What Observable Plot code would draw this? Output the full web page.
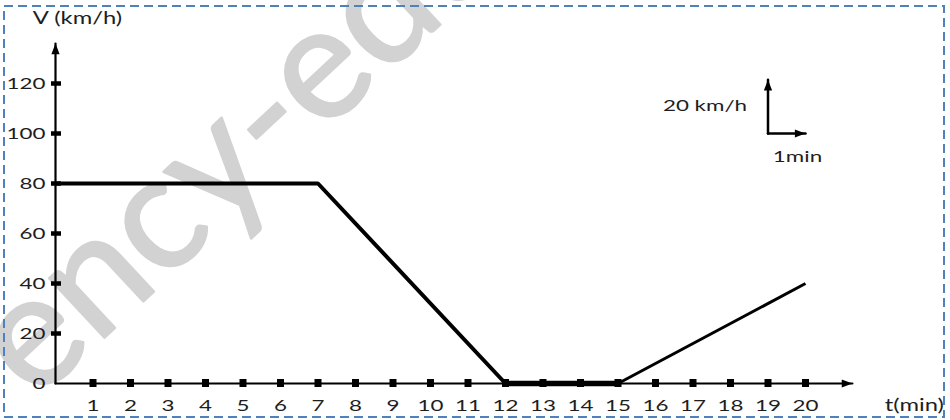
<!DOCTYPE html>
<html>
<head>
<meta charset="utf-8">
<script src="https://cdn.jsdelivr.net/npm/d3@7"></script>
<script src="https://cdn.jsdelivr.net/npm/@observablehq/plot@0.6"></script>
<style>
  html, body { margin: 0; padding: 0; background: #fff; }
  #chart svg { display: block; }
</style>
</head>
<body>
<div id="chart"></div>
<script>
// ---- data ----
const times  = [0, 7, 12, 15, 20];          // t (min)
const speeds = [80, 80, 0, 0, 40];          // V (km/h)
const xTicks = [1, 2, 3, 4, 5, 6, 7, 8, 9, 10, 11, 12, 13, 14, 15, 16, 17, 18, 19, 20];
const yTicks = [20, 40, 60, 80, 100, 120];
const yLabels = [0, 20, 40, 60, 80, 100, 120];
const xTitle = "t(min)";
const yTitle = "V (km/h)";
const legendSpeedLabel = "20 km/h";
const legendTimeLabel = "1min";
const legendOrigin = [19, 100];   // scale legend corner (t, V)
const legendSpeed = [100, 121.5]; // vertical arrow, V
const legendTime = [19, 20];      // horizontal arrow, t
const watermark = "ency-education";

const xMax = 21.25, yMax = 136;    // axis arrow tips
const points = times.map((t, i) => ({t, v: speeds[i]}));

const FONT = "Lato, 'Open Sans', sans-serif";
const TXT = "#1e1e1e";

// filled arrowheads with tip at the anchor point
const headRight = {draw(c, size) { const s = Math.sqrt(size); c.moveTo(0, 0); c.lineTo(-1.5 * s, -0.58 * s); c.lineTo(-1.5 * s, 0.58 * s); c.closePath(); }};
const headUp = {draw(c, size) { const s = Math.sqrt(size); c.moveTo(0, 0); c.lineTo(-0.58 * s, 1.5 * s); c.lineTo(0.58 * s, 1.5 * s); c.closePath(); }};

const plot = Plot.plot({
  width: 950,
  height: 420,
  marginLeft: 55,
  marginRight: 145,
  marginTop: 83,
  marginBottom: 37,
  x: {domain: [0, 20], axis: null},
  y: {domain: [0, 120], axis: null},
  style: {fontFamily: FONT, background: "#fff", overflow: "hidden"},
  marks: [
    // watermark
    Plot.text([watermark], {x: 0, y: 0, text: d => d, textAnchor: "start", rotate: -43,
      dx: -56, dy: -18, fontSize: 160, fill: "#d2d2d2", stroke: "#d2d2d2", strokeWidth: 2.5, fontFamily: FONT}),
    // axes
    Plot.line([[0, 0], [xMax, 0]], {x: d => d[0], y: d => d[1], stroke: "#000", strokeWidth: 2.2}),
    Plot.line([[0, 0], [0, yMax]], {x: d => d[0], y: d => d[1], stroke: "#000", strokeWidth: 2.2}),
    Plot.dot([[xMax, 0]], {x: d => d[0], y: d => d[1], symbol: headRight, r: 4, fill: "#000", stroke: "none"}),
    Plot.dot([[0, yMax]], {x: d => d[0], y: d => d[1], symbol: headUp, r: 4, fill: "#000", stroke: "none"}),
    // tick squares
    Plot.ruleX(xTicks, {x: d => d, y1: 0, y2: 0, insetTop: -4, insetBottom: -4, stroke: "#000", strokeWidth: 7}),
    Plot.ruleY(yTicks, {y: d => d, x1: 0, x2: 0, insetLeft: -4, insetRight: -6, stroke: "#000", strokeWidth: 4.5}),
    // tick labels
    Plot.text(xTicks, {x: d => d, y: 0, text: d => String(d), dy: 22, fontSize: 16, fill: TXT}),
    Plot.text(yLabels, {x: 0, y: d => d, text: d => String(d), textAnchor: "end", dx: -10, fontSize: 16, fill: TXT}),
    // axis titles
    Plot.text([yTitle], {x: 0, y: yMax, text: d => d, dx: 22, dy: -25, fontSize: 17, fill: TXT}),
    Plot.text([xTitle], {x: xMax, y: 0, text: d => d, dx: 62, dy: 22, fontSize: 17, fill: TXT}),
    // data line
    Plot.line(points.slice(0, 3), {x: "t", y: "v", stroke: "#000", strokeWidth: 4, strokeLinejoin: "miter", strokeLinecap: "butt"}),
    Plot.line(points.slice(2, 4), {x: "t", y: "v", stroke: "#000", strokeWidth: 5.5, strokeLinejoin: "miter", strokeLinecap: "butt"}),
    Plot.line(points.slice(3), {x: "t", y: "v", stroke: "#000", strokeWidth: 3, strokeLinejoin: "miter", strokeLinecap: "butt"}),
    // scale legend
    Plot.line(legendSpeed.map(v => [legendOrigin[0], v]), {x: d => d[0], y: d => d[1], stroke: "#000", strokeWidth: 2.5}),
    Plot.line(legendTime.map(t => [t, legendOrigin[1]]), {x: d => d[0], y: d => d[1], stroke: "#000", strokeWidth: 2.5}),
    Plot.dot([[legendOrigin[0], legendSpeed[1]]], {x: d => d[0], y: d => d[1], symbol: headUp, r: 4, fill: "#000", stroke: "none"}),
    Plot.dot([[legendTime[1], legendOrigin[1]]], {x: d => d[0], y: d => d[1], symbol: headRight, r: 4, fill: "#000", stroke: "none"}),
    Plot.text([legendSpeedLabel], {x: legendOrigin[0], y: (legendSpeed[0] + legendSpeed[1]) / 2, text: d => d, textAnchor: "end", dx: -21, dy: -1, fontSize: 16, fill: TXT}),
    Plot.text([legendTimeLabel], {x: legendTime[1], y: legendOrigin[1], text: d => d, dx: -8, dy: 23, fontSize: 16, fill: TXT})
  ]
});

// widen glyphs like the reference (stretched Calibri)
plot.querySelectorAll("text").forEach(t => {
  if (t.textContent === watermark) return;
  const tr = t.getAttribute("transform") || "";
  t.setAttribute("transform", tr + " scale(1.4,1)");
});

// dashed page border
d3.select(plot).append("rect")
  .attr("x", 4).attr("y", 6).attr("width", 940).attr("height", 411)
  .attr("fill", "none").attr("stroke", "#4f81bd").attr("stroke-width", 2)
  .attr("stroke-dasharray", "9,5");

document.getElementById("chart").appendChild(plot);
</script>
</body>
</html>
